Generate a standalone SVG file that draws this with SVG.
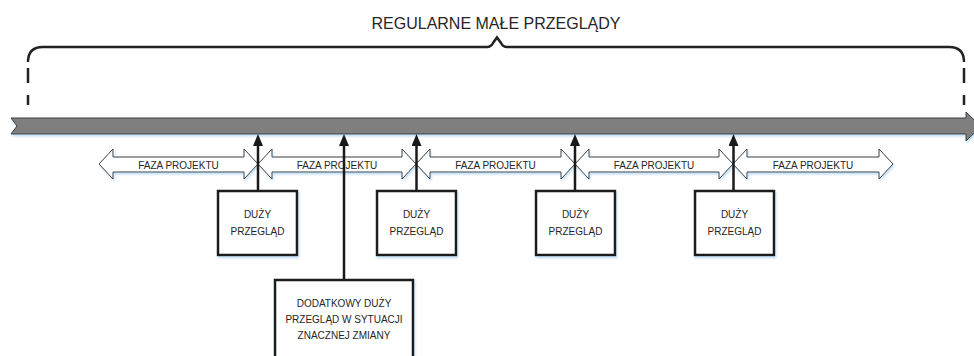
<svg xmlns="http://www.w3.org/2000/svg" width="974" height="356" viewBox="0 0 974 356">
<style>
.t{font-family:"Liberation Sans",Arial,sans-serif;fill:#262626;text-anchor:middle}
.phase{fill:#ffffff;stroke:#3c3c3c;stroke-width:1;filter:url(#sh)}
.box{fill:#ffffff;stroke:#1a1a1a;stroke-width:2.5;filter:url(#sh)}
.conn{stroke:#1a1a1a;stroke-width:2.5;fill:none}
.brace{stroke:#222;stroke-width:2.5;fill:none}
</style>
<defs>
<filter id="sh" x="-10%" y="-20%" width="120%" height="150%">
<feDropShadow dx="1" dy="2" stdDeviation="1.3" flood-color="#8fc3ea" flood-opacity="0.55"/>
</filter>
<marker id="ah" viewBox="0 0 12 10" refX="0" refY="5" markerWidth="12" markerHeight="10" markerUnits="userSpaceOnUse" orient="auto">
<path d="M0,0 L12,5 L0,10 z" fill="#1a1a1a"/>
</marker>
</defs>
<rect width="974" height="356" fill="#ffffff"/>

<g id="title">
<text class="t" x="496" y="29" font-size="16">REGULARNE MAŁE PRZEGLĄDY</text>
<path class="brace" d="M28,62 Q28,47 43,47 L487,47 Q491,47 493,43 L497,37.5 L501,43 Q503,47 507,47 L949,47 Q964,47 964,62"/>
<path class="brace" d="M28,68 L28,83 M28,95 L28,105 M964,68 L964,83 M964,95 L964,105"/>
</g>

<g id="timeline">
<path d="M11,118 L966,118 L966,112 L981,126.5 L966,141 L966,134 L11,134 L17,126 Z" fill="#7f7f7f" stroke="#3a3a3a" stroke-width="1" filter="url(#sh)"/>
</g>

<g id="phase1">
<path class="phase" d="M99,164 L113,149 L113,157 L244,157 L244,149 L258,164 L244,179 L244,172 L113,172 L113,179 Z"/>
<text class="t" x="178.5" y="169" font-size="10">FAZA PROJEKTU</text>
</g>
<g id="phase2">
<path class="phase" d="M258,164 L272,149 L272,157 L402,157 L402,149 L416,164 L402,179 L402,172 L272,172 L272,179 Z"/>
<text class="t" x="337" y="169" font-size="10">FAZA PROJEKTU</text>
</g>
<g id="phase3">
<path class="phase" d="M416,164 L430,149 L430,157 L561,157 L561,149 L575,164 L561,179 L561,172 L430,172 L430,179 Z"/>
<text class="t" x="495.5" y="169" font-size="10">FAZA PROJEKTU</text>
</g>
<g id="phase4">
<path class="phase" d="M575,164 L589,149 L589,157 L719,157 L719,149 L733,164 L719,179 L719,172 L589,172 L589,179 Z"/>
<text class="t" x="654" y="169" font-size="10">FAZA PROJEKTU</text>
</g>
<g id="phase5">
<path class="phase" d="M733,164 L747,149 L747,157 L879,157 L879,149 L893,164 L879,179 L879,172 L747,172 L747,179 Z"/>
<text class="t" x="813" y="169" font-size="10">FAZA PROJEKTU</text>
</g>

<g id="connectors">
<line class="conn" x1="258" y1="191" x2="258" y2="146" marker-end="url(#ah)"/>
<line class="conn" x1="344" y1="280" x2="344" y2="146" marker-end="url(#ah)"/>
<line class="conn" x1="416.5" y1="191" x2="416.5" y2="146" marker-end="url(#ah)"/>
<line class="conn" x1="575" y1="191" x2="575" y2="146" marker-end="url(#ah)"/>
<line class="conn" x1="733.5" y1="191" x2="733.5" y2="146" marker-end="url(#ah)"/>
</g>

<g id="review1">
<rect class="box" x="218" y="191" width="79" height="64"/>
<text class="t" x="257.5" y="218" font-size="10">DUŻY</text>
<text class="t" x="257.5" y="235" font-size="10">PRZEGLĄD</text>
</g>
<g id="review2">
<rect class="box" x="377" y="191" width="79" height="64"/>
<text class="t" x="416.5" y="218" font-size="10">DUŻY</text>
<text class="t" x="416.5" y="235" font-size="10">PRZEGLĄD</text>
</g>
<g id="review3">
<rect class="box" x="536" y="191" width="79" height="64"/>
<text class="t" x="575.5" y="218" font-size="10">DUŻY</text>
<text class="t" x="575.5" y="235" font-size="10">PRZEGLĄD</text>
</g>
<g id="review4">
<rect class="box" x="695" y="191" width="79" height="64"/>
<text class="t" x="734.5" y="218" font-size="10">DUŻY</text>
<text class="t" x="734.5" y="235" font-size="10">PRZEGLĄD</text>
</g>
<g id="extra-review">
<rect class="box" x="275" y="280" width="138" height="90"/>
<text class="t" x="344" y="307" font-size="10">DODATKOWY DUŻY</text>
<text class="t" x="344" y="323" font-size="10">PRZEGLĄD W SYTUACJI</text>
<text class="t" x="344" y="339" font-size="10">ZNACZNEJ ZMIANY</text>
</g>
</svg>
